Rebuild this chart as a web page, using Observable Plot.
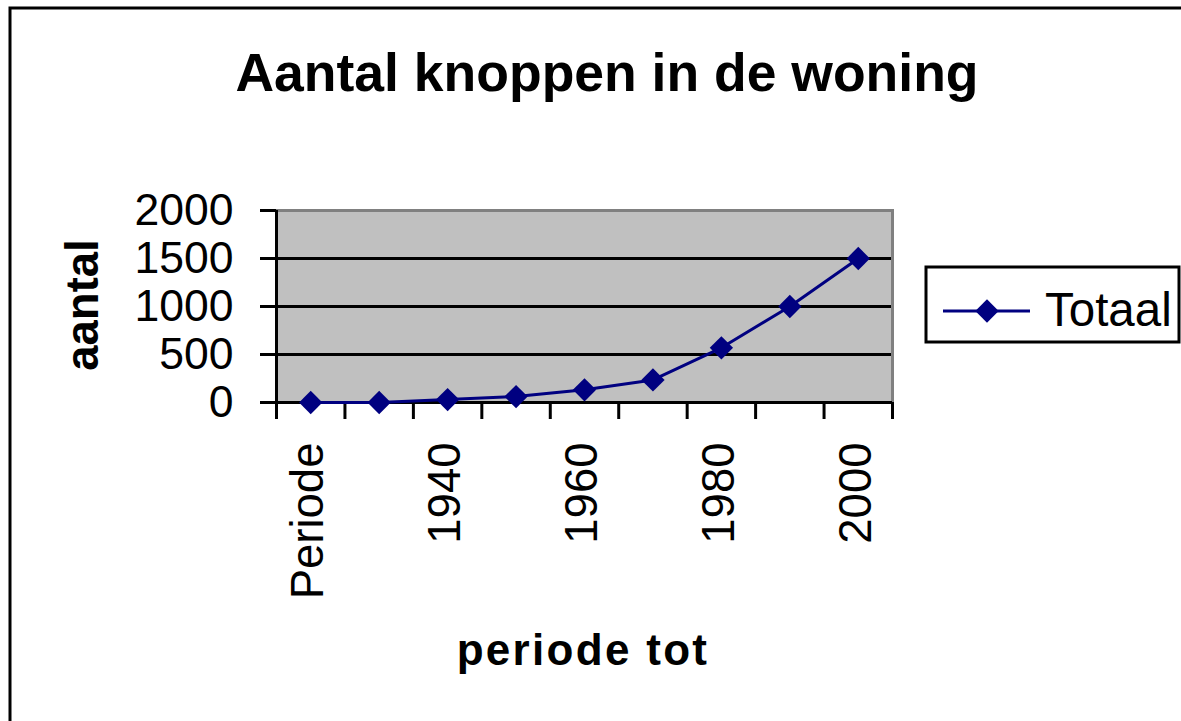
<!DOCTYPE html>
<html>
<head>
<meta charset="utf-8">
<script src="https://cdn.jsdelivr.net/npm/d3@7"></script>
<script src="https://cdn.jsdelivr.net/npm/@observablehq/plot@0.6"></script>
<style>
  html, body { margin: 0; padding: 0; background: #ffffff; }
  #chart svg { display: block; }
</style>
</head>
<body>
<div id="chart"></div>
<script>
// Data
const categories = ["Periode", "1930", "1940", "1950", "1960", "1970", "1980", "1990", "2000"];
const values = [0, 0, 30, 62, 132, 235, 570, 1000, 1500];
const yTicks = [0, 500, 1000, 1500, 2000];
const gridValues = [500, 1000, 1500];
const shownLabelIdx = [0, 2, 4, 6, 8];
const seriesName = "Totaal";
const titleText = "Aantal knoppen in de woning";
const yLabelText = "aantal";
const xLabelText = "periode tot";

const data = categories.map((c, i) => ({i, cat: c, value: values[i]}));
const FONT = "'Liberation Sans', Arial, Helvetica, sans-serif";
const NAVY = "#000080";
const DOT_R = 10.5;

const chart = Plot.plot({
  width: 1181,
  height: 721,
  marginLeft: 276,
  marginRight: 289,
  marginTop: 210,
  marginBottom: 319,
  style: {fontFamily: FONT, background: "#ffffff", color: "#000", overflow: "visible"},
  x: {type: "linear", domain: [-0.5, categories.length - 0.5]},
  y: {domain: [0, 2000]},
  marks: [
    Plot.frame({fill: "#c0c0c0"}),
    Plot.ruleY(gridValues, {stroke: "#000", strokeWidth: 3}),
    Plot.frame({stroke: "#808080", strokeWidth: 3}),
    Plot.ruleY([0], {stroke: "#000", strokeWidth: 3}),
    Plot.ruleX([-0.5], {stroke: "#000", strokeWidth: 3}),
    Plot.axisY({ticks: yTicks, tickFormat: d => String(d), tickSize: 16, tickPadding: 27, fontSize: 44.5, stroke: "#000", strokeWidth: 3, label: null}),
    Plot.axisX({ticks: d3.range(-0.5, categories.length, 1), tickSize: 17, tickFormat: () => "", stroke: "#000", strokeWidth: 3, label: null}),
    Plot.text(shownLabelIdx, {
      x: d => d, text: d => categories[d], frameAnchor: "bottom", dy: 40, dx: -2,
      rotate: -90, textAnchor: "end", lineAnchor: "middle", fontSize: 45.5, fill: "#000"
    }),
    Plot.line(data, {x: "i", y: "value", stroke: NAVY, strokeWidth: 3}),
    Plot.dot(data, {x: "i", y: "value", symbol: "diamond2", r: DOT_R, fill: NAVY, stroke: "none"})
  ]
});

document.getElementById("chart").appendChild(chart);

const svg = d3.select(chart);

// Outer chart border (top and left visible)
svg.append("path")
  .attr("d", "M10,721 L10,8 L1181,8")
  .attr("fill", "none").attr("stroke", "#000").attr("stroke-width", 3);

// Title
svg.append("text")
  .attr("x", 607).attr("y", 91)
  .attr("text-anchor", "middle")
  .attr("font-family", FONT).attr("font-weight", "bold").attr("font-size", 53.5)
  .attr("fill", "#000")
  .text(titleText);

// Y-axis title
svg.append("text")
  .attr("transform", "translate(98,305) rotate(-90)")
  .attr("text-anchor", "middle")
  .attr("font-family", FONT).attr("font-weight", "bold").attr("font-size", 45.5)
  .attr("fill", "#000")
  .text(yLabelText);

// X-axis title
svg.append("text")
  .attr("x", 583).attr("y", 665)
  .attr("text-anchor", "middle")
  .attr("font-family", FONT).attr("font-weight", "bold").attr("font-size", 44)
  .attr("letter-spacing", "2.3px")
  .attr("fill", "#000")
  .text(xLabelText);

// Legend
const lg = svg.append("g");
lg.append("rect")
  .attr("x", 926).attr("y", 267).attr("width", 253).attr("height", 75)
  .attr("fill", "#fff").attr("stroke", "#000").attr("stroke-width", 3);
lg.append("line")
  .attr("x1", 943).attr("x2", 1030).attr("y1", 311).attr("y2", 311)
  .attr("stroke", NAVY).attr("stroke-width", 3);
lg.append("path")
  .attr("d", d3.symbol(d3.symbolDiamond2, Math.PI * DOT_R * DOT_R)())
  .attr("transform", "translate(987,311)")
  .attr("fill", NAVY);
lg.append("text")
  .attr("x", 1045).attr("y", 326)
  .attr("text-anchor", "start")
  .attr("font-family", FONT).attr("font-size", 47.5)
  .attr("fill", "#000")
  .text(seriesName);
</script>
</body>
</html>
